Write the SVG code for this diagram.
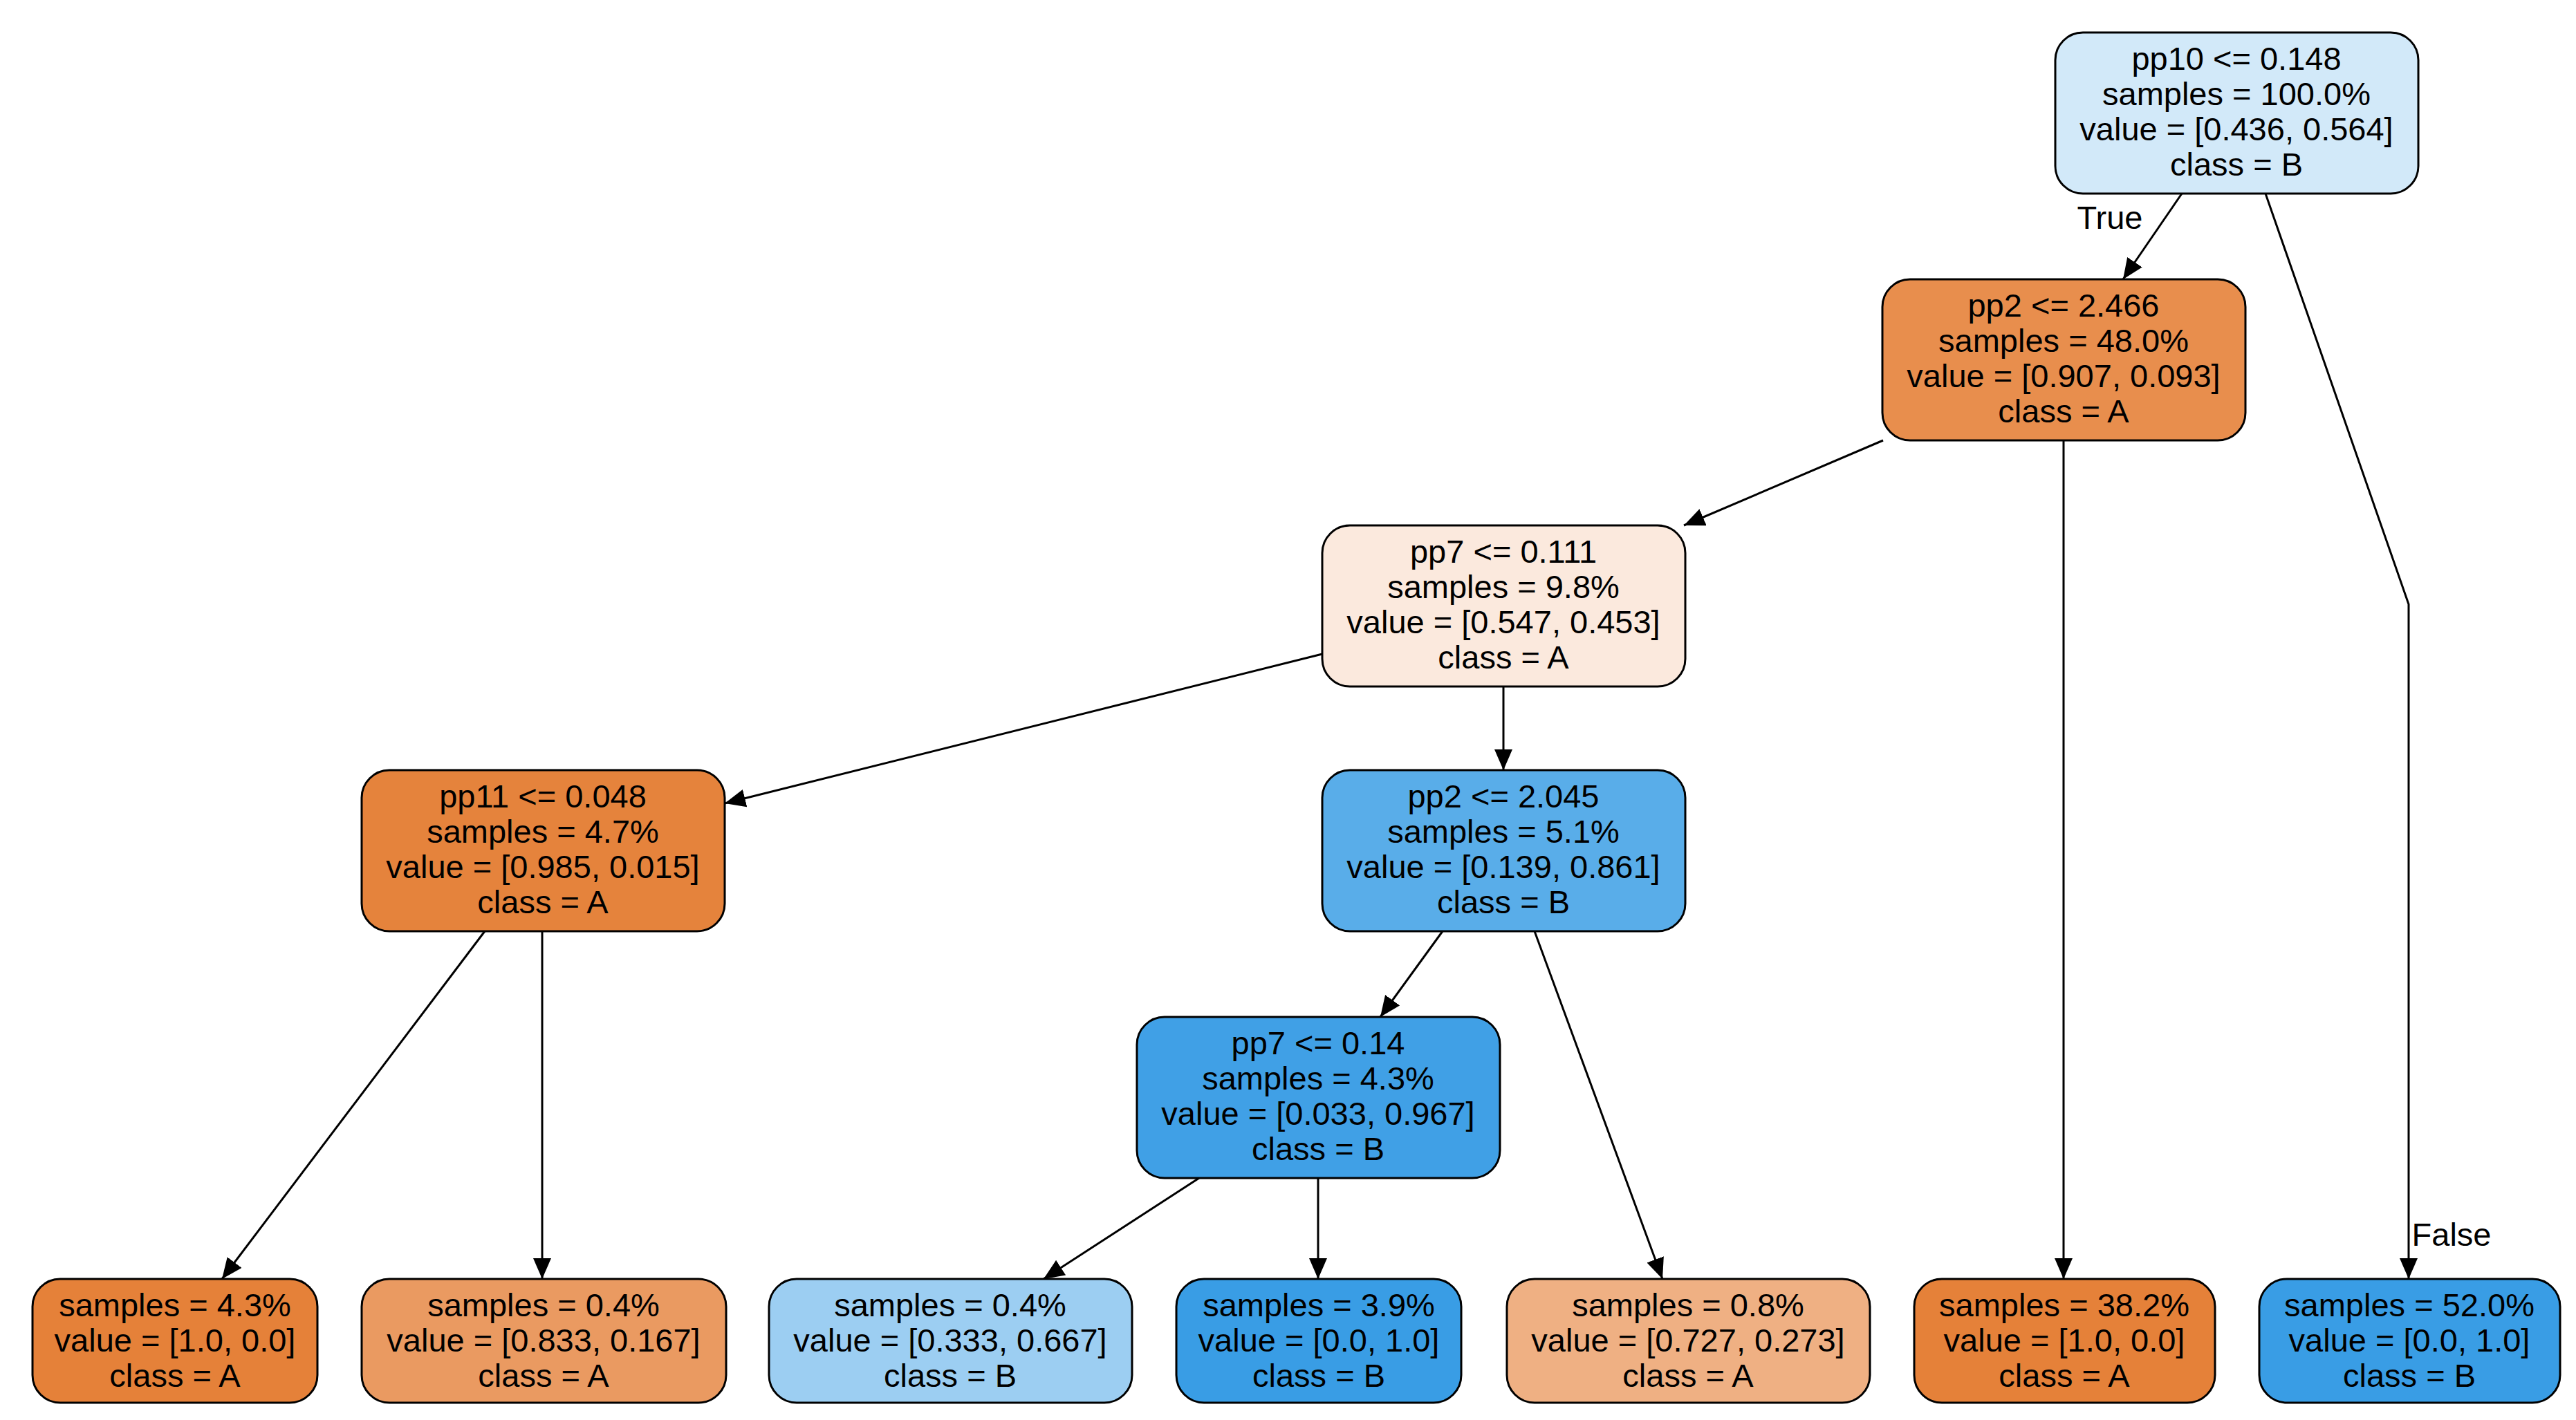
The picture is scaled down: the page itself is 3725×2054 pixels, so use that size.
<svg xmlns="http://www.w3.org/2000/svg" width="3725" height="2054" viewBox="0 0 3725 2054">
<style>
.n rect{stroke:#000;stroke-width:3}
text{font-family:"Liberation Sans",Arial,sans-serif;font-size:47px;fill:#000;text-anchor:middle}
.e path{fill:none;stroke:#000;stroke-width:3;marker-end:url(#ah)}
</style>
<defs>
<marker id="ah" markerUnits="userSpaceOnUse" markerWidth="32" markerHeight="26" refX="30" refY="13" orient="auto"><path d="M0,0 L30,13 L0,26 Z" fill="#000"/></marker>
</defs>
<rect width="3725" height="2054" fill="#fff"/>
<g class="e" id="connectors">
<path d="M3155,280 L3070,404"/>
<path d="M3276,280 L3483,874 L3483,1850"/>
<path d="M2723,637 L2435,760"/>
<path d="M2984,637 L2984,1850"/>
<path d="M1912,946 L1048,1162"/>
<path d="M2174,993 L2174,1114"/>
<path d="M701,1347 L321,1850"/>
<path d="M784,1347 L784,1850"/>
<path d="M2086,1347 L1996,1471"/>
<path d="M2219,1347 L2404,1850"/>
<path d="M1734,1704 L1509,1850"/>
<path d="M1906,1704 L1906,1850"/>
<text x="3051" y="331">True</text>
<text x="3545" y="1802">False</text>
</g>
<g class="n" id="n0"><rect x="2972" y="47" width="525" height="233" rx="40" fill="#d2e9f9"/>
<text x="3234" y="101">pp10 &lt;= 0.148</text><text x="3234" y="152">samples = 100.0%</text><text x="3234" y="203">value = [0.436, 0.564]</text><text x="3234" y="254">class = B</text></g>
<g class="n" id="n1"><rect x="2722" y="404" width="525" height="233" rx="40" fill="#e88e4d"/>
<text x="2984" y="458">pp2 &lt;= 2.466</text><text x="2984" y="509">samples = 48.0%</text><text x="2984" y="560">value = [0.907, 0.093]</text><text x="2984" y="611">class = A</text></g>
<g class="n" id="n2"><rect x="1912" y="760" width="525" height="233" rx="40" fill="#fbe9dd"/>
<text x="2174" y="814">pp7 &lt;= 0.111</text><text x="2174" y="865">samples = 9.8%</text><text x="2174" y="916">value = [0.547, 0.453]</text><text x="2174" y="967">class = A</text></g>
<g class="n" id="n3"><rect x="523" y="1114" width="525" height="233" rx="40" fill="#e5833c"/>
<text x="785" y="1168">pp11 &lt;= 0.048</text><text x="785" y="1219">samples = 4.7%</text><text x="785" y="1270">value = [0.985, 0.015]</text><text x="785" y="1321">class = A</text></g>
<g class="n" id="n4"><rect x="1912" y="1114" width="525" height="233" rx="40" fill="#59ade9"/>
<text x="2174" y="1168">pp2 &lt;= 2.045</text><text x="2174" y="1219">samples = 5.1%</text><text x="2174" y="1270">value = [0.139, 0.861]</text><text x="2174" y="1321">class = B</text></g>
<g class="n" id="n5"><rect x="1644" y="1471" width="525" height="233" rx="40" fill="#40a0e6"/>
<text x="1906" y="1525">pp7 &lt;= 0.14</text><text x="1906" y="1576">samples = 4.3%</text><text x="1906" y="1627">value = [0.033, 0.967]</text><text x="1906" y="1678">class = B</text></g>
<g class="n" id="l1"><rect x="47" y="1850" width="412" height="179" rx="40" fill="#e58139"/>
<text x="253" y="1904">samples = 4.3%</text><text x="253" y="1955">value = [1.0, 0.0]</text><text x="253" y="2006">class = A</text></g>
<g class="n" id="l2"><rect x="523" y="1850" width="527" height="179" rx="40" fill="#ea9a61"/>
<text x="786" y="1904">samples = 0.4%</text><text x="786" y="1955">value = [0.833, 0.167]</text><text x="786" y="2006">class = A</text></g>
<g class="n" id="l3"><rect x="1112" y="1850" width="525" height="179" rx="40" fill="#9ccef2"/>
<text x="1374" y="1904">samples = 0.4%</text><text x="1374" y="1955">value = [0.333, 0.667]</text><text x="1374" y="2006">class = B</text></g>
<g class="n" id="l4"><rect x="1701" y="1850" width="412" height="179" rx="40" fill="#399de5"/>
<text x="1907" y="1904">samples = 3.9%</text><text x="1907" y="1955">value = [0.0, 1.0]</text><text x="1907" y="2006">class = B</text></g>
<g class="n" id="l5"><rect x="2179" y="1850" width="525" height="179" rx="40" fill="#efb083"/>
<text x="2441" y="1904">samples = 0.8%</text><text x="2441" y="1955">value = [0.727, 0.273]</text><text x="2441" y="2006">class = A</text></g>
<g class="n" id="l6"><rect x="2768" y="1850" width="435" height="179" rx="40" fill="#e58139"/>
<text x="2985" y="1904">samples = 38.2%</text><text x="2985" y="1955">value = [1.0, 0.0]</text><text x="2985" y="2006">class = A</text></g>
<g class="n" id="l7"><rect x="3267" y="1850" width="435" height="179" rx="40" fill="#399de5"/>
<text x="3484" y="1904">samples = 52.0%</text><text x="3484" y="1955">value = [0.0, 1.0]</text><text x="3484" y="2006">class = B</text></g>
</svg>
